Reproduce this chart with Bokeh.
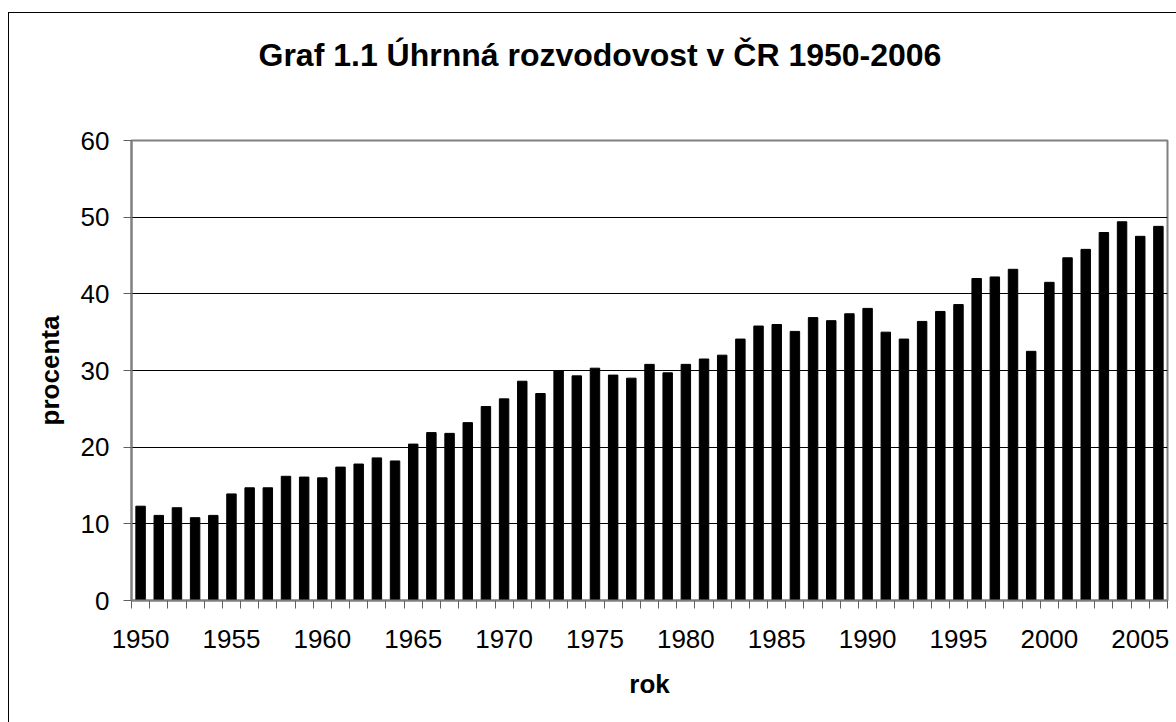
from bokeh.plotting import figure
from bokeh.models import FixedTicker, Title
from bokeh.embed import file_html
from bokeh.resources import INLINE

years = list(range(1950, 2007))
values = [12.3, 11.1, 12.1, 10.8, 11.1, 13.9, 14.7, 14.7, 16.2, 16.1,
          16.0, 17.4, 17.8, 18.6, 18.2, 20.4, 21.9, 21.8, 23.2, 25.3,
          26.3, 28.6, 27.0, 30.0, 29.3, 30.3, 29.4, 29.0, 30.8, 29.7,
          30.8, 31.5, 32.0, 34.1, 35.8, 36.0, 35.1, 36.9, 36.5, 37.4,
          38.1, 35.0, 34.1, 36.4, 37.7, 38.6, 42.0, 42.2, 43.2, 32.5,
          41.5, 44.7, 45.8, 48.0, 49.4, 47.5, 48.8]
label_years = [1950, 1955, 1960, 1965, 1970, 1975, 1980, 1985, 1990, 1995, 2000, 2005]
y_ticks = [0, 10, 20, 30, 40, 50, 60]
grid_ticks = [10, 20, 30, 40, 50]

title_text = "Graf 1.1 Úhrnná rozvodovost v ČR 1950-2006"
x_title = "rok"
y_title = "procenta"

FONT = "Liberation Sans"
GRAY = "#808080"

p = figure(width=1176, height=722, output_backend="svg", toolbar_location=None,
           x_range=(years[0] - 0.5, years[-1] + 0.5), y_range=(0, 60),
           min_border_left=131, min_border_right=9, min_border_top=140,
           min_border_bottom=122)

# empty spacer title next to the frame, then the real title above it
spacer = Title(text=" ", text_font_size="2px", standoff=64)
p.add_layout(spacer, "above")
main_title = Title(text=title_text, text_font=FONT, text_font_size="32px",
                   text_font_style="bold", text_color="black",
                   align="left", offset=127, standoff=0)
p.add_layout(main_title, "above")

p.vbar(x=years, top=values, width=0.52, color="black")

p.background_fill_color = "white"
p.border_fill_color = "white"
p.outline_line_color = GRAY
p.outline_line_width = 2

# x axis
xa = p.xaxis[0]
xa.ticker = FixedTicker(ticks=label_years, minor_ticks=[y - 0.5 for y in years] + [years[-1] + 0.5])
xa.major_tick_out = 0
xa.major_tick_in = 0
xa.minor_tick_out = 8
xa.minor_tick_in = 0
xa.minor_tick_line_color = "#606060"
xa.axis_line_color = GRAY
xa.axis_line_width = 2
xa.major_label_text_font = FONT
xa.major_label_text_font_size = "26px"
xa.major_label_text_color = "black"
xa.major_label_standoff = 21
xa.axis_label = x_title
xa.axis_label_text_font = FONT
xa.axis_label_text_font_size = "26px"
xa.axis_label_text_font_style = "bold"
xa.axis_label_text_color = "black"
xa.axis_label_standoff = 18

# y axis
ya = p.yaxis[0]
ya.ticker = FixedTicker(ticks=y_ticks)
ya.major_tick_out = 8
ya.major_tick_in = 0
ya.major_tick_line_color = "#606060"
ya.minor_tick_line_color = None
ya.axis_line_color = GRAY
ya.axis_line_width = 2
ya.major_label_text_font = FONT
ya.major_label_text_font_size = "26px"
ya.major_label_text_color = "black"
ya.major_label_standoff = 14
ya.axis_label = y_title
ya.axis_label_text_font = FONT
ya.axis_label_text_font_size = "26px"
ya.axis_label_text_font_style = "bold"
ya.axis_label_text_color = "black"
ya.axis_label_standoff = 13

p.xgrid.grid_line_color = None
p.ygrid.ticker = FixedTicker(ticks=grid_ticks)
p.ygrid.grid_line_color = "black"
p.ygrid.grid_line_width = 1

# outer chart-area border: only its top and left edges fall inside the picture
p.stylesheets = [
    ":host { position: relative; }"
    ":host::after { content: ''; position: absolute; left: 8px; top: 12px; right: 0; bottom: 0;"
    " border-left: 1.5px solid black; border-top: 1.5px solid black; pointer-events: none; }"
]

open("out.html", "w").write(file_html(p, INLINE))
